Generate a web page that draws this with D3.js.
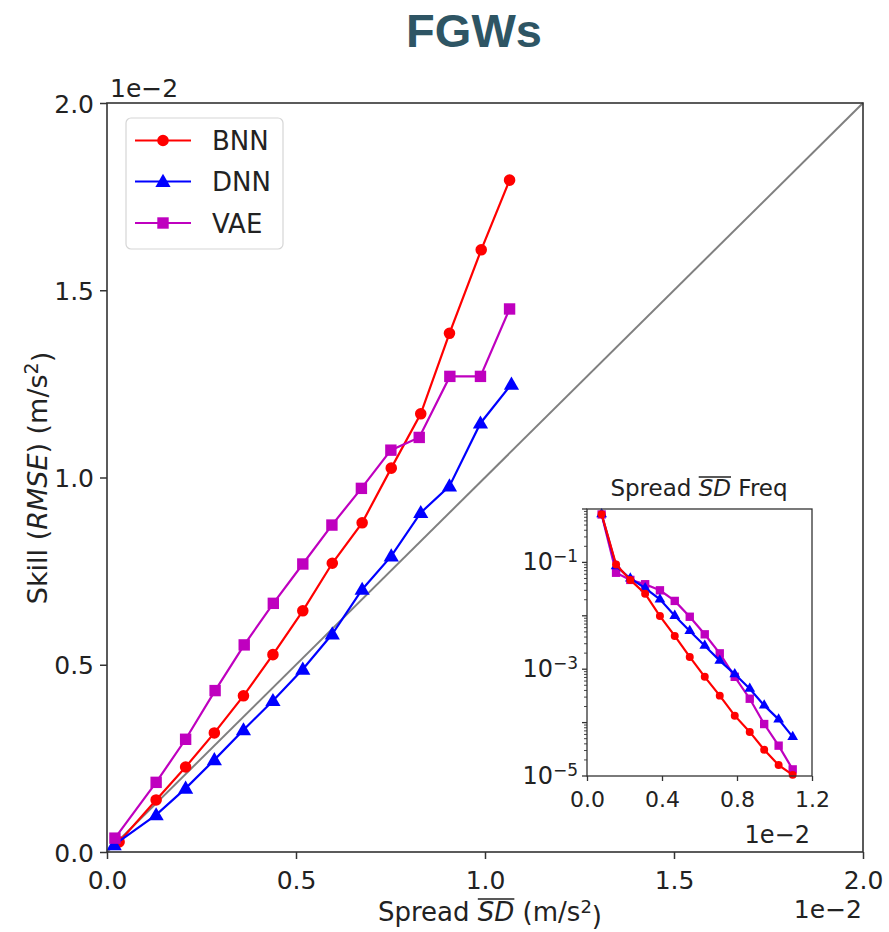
<!DOCTYPE html>
<html>
<head>
<meta charset="utf-8">
<script src="https://cdn.jsdelivr.net/npm/d3@7"></script>
<style>
  body { margin: 0; background: #fff; }
  text { font-family: "DejaVu Sans", sans-serif; fill: #222; }
</style>
</head>
<body>
<div id="chart"></div>
<script>
// Skill vs spread, values in units of 1e-2 m/s^2
const models = ["BNN", "DNN", "VAE"];
const colors = ["#ff0000", "#0000ff", "#bf00bf"];
const shapes = ["circle", "triangle", "square"];

const bnnSpread = [0.032, 0.13, 0.208, 0.284, 0.361, 0.439, 0.518, 0.596, 0.675, 0.752, 0.83, 0.906, 0.99, 1.065];
const bnnSkill  = [0.027, 0.139, 0.227, 0.318, 0.417, 0.527, 0.644, 0.771, 0.879, 1.025, 1.17, 1.385, 1.608, 1.794];
const dnnSpread = [0.019, 0.13, 0.208, 0.284, 0.361, 0.439, 0.518, 0.596, 0.675, 0.752, 0.83, 0.906, 0.988, 1.07];
const dnnSkill  = [0.019, 0.099, 0.17, 0.246, 0.326, 0.404, 0.488, 0.582, 0.701, 0.79, 0.906, 0.977, 1.145, 1.249];
const vaeSpread = [0.021, 0.13, 0.208, 0.286, 0.363, 0.44, 0.518, 0.595, 0.673, 0.751, 0.826, 0.907, 0.988, 1.065];
const vaeSkill  = [0.037, 0.186, 0.301, 0.431, 0.553, 0.664, 0.769, 0.873, 0.971, 1.073, 1.107, 1.27, 1.27, 1.45];

// Inset: frequency of spread bins (log scale)
const freqBins = [0.078, 0.155, 0.231, 0.31, 0.389, 0.468, 0.548, 0.628, 0.708, 0.788, 0.868, 0.945, 1.022, 1.097];
const bnnFreq = [0.8, 0.091, 0.047, 0.026, 0.0099, 0.0042, 0.0017, 0.00072, 0.00032, 0.000135, 0.000067, 0.000031, 0.000016, 0.0000105];
const dnnFreq = [0.8, 0.085, 0.05, 0.033, 0.0203, 0.01, 0.0052, 0.00275, 0.00145, 0.00081, 0.00043, 0.00021, 0.000115, 0.000054];
const vaeFreq = [0.79, 0.064, 0.047, 0.039, 0.03, 0.019, 0.0096, 0.0045, 0.00198, 0.00072, 0.00028, 0.000094, 0.000037, 0.0000133];

const mainTicks = [0, 0.5, 1.0, 1.5, 2.0];
const insetXTicks = [0, 0.4, 0.8, 1.2];
const insetYLabels = [1e-1, 1e-3, 1e-5];

const spreads = [bnnSpread, dnnSpread, vaeSpread];
const skills = [bnnSkill, dnnSkill, vaeSkill];
const freqs = [bnnFreq, dnnFreq, vaeFreq];

const width = 889, height = 932;
const svg = d3.select("#chart").append("svg")
  .attr("width", width)
  .attr("height", height);

svg.append("rect").attr("width", width).attr("height", height).attr("fill", "#fff");

// title
svg.append("text")
  .attr("x", 474).attr("y", 47)
  .attr("text-anchor", "middle")
  .style("font-family", "'Liberation Sans', Arial, sans-serif")
  .style("font-weight", "bold")
  .style("font-size", "47px")
  .style("fill", "#2e5564")
  .text("FGWs");

// main axes
const plot = { left: 107, right: 863, top: 103, bottom: 852 };
const x = d3.scaleLinear().domain([0, 2]).range([plot.left, plot.right]);
const y = d3.scaleLinear().domain([0, 2]).range([plot.bottom, plot.top]);

// diagonal y = x
svg.append("line")
  .attr("x1", x(0)).attr("y1", y(0))
  .attr("x2", x(2)).attr("y2", y(2))
  .attr("stroke", "#808080")
  .attr("stroke-width", 2);

function markerPath(shape, size) {
  const sym = shape === "circle" ? d3.symbolCircle : shape === "triangle" ? d3.symbolTriangle : d3.symbolSquare;
  return d3.symbol().type(sym).size(size)();
}

const markerSize = { circle: 105, triangle: 100, square: 130 };

models.forEach((m, i) => {
  const pts = spreads[i].map((s, j) => [s, skills[i][j]]);
  svg.append("path")
    .datum(pts)
    .attr("fill", "none")
    .attr("stroke", colors[i])
    .attr("stroke-width", 2.2)
    .attr("d", d3.line().x(d => x(d[0])).y(d => y(d[1])));
  svg.selectAll(".mk-" + m)
    .data(pts)
    .enter()
    .append("path")
    .attr("class", "mk-" + m)
    .attr("d", markerPath(shapes[i], markerSize[shapes[i]]))
    .attr("transform", d => `translate(${x(d[0])},${y(d[1]) + (shapes[i] === "triangle" ? 1 : 0)})`)
    .attr("fill", colors[i]);
});

// axes
const xAxis = d3.axisBottom(x).tickValues(mainTicks).tickFormat(d3.format(".1f")).tickSize(7).tickPadding(6);
const yAxis = d3.axisLeft(y).tickValues(mainTicks).tickFormat(d3.format(".1f")).tickSize(7).tickPadding(6);

const gx = svg.append("g").attr("transform", `translate(0,${plot.bottom})`).call(xAxis);
const gy = svg.append("g").attr("transform", `translate(${plot.left},0)`).call(yAxis);
[gx, gy].forEach(g => {
  g.select(".domain").remove();
  g.selectAll("line").attr("stroke", "#333").attr("stroke-width", 1.5);
  g.selectAll("text").style("font-size", "25px").style("fill", "#222").attr("font-family", null);
});
gy.selectAll("text").attr("dy", "0.36em");
gx.selectAll("text").attr("dy", "0.95em");

svg.append("rect")
  .attr("x", plot.left).attr("y", plot.top)
  .attr("width", plot.right - plot.left).attr("height", plot.bottom - plot.top)
  .attr("fill", "none").attr("stroke", "#333").attr("stroke-width", 1.6);

// offset texts
svg.append("text").attr("x", 110).attr("y", 97).style("font-size", "25px").text("1e\u22122");
svg.append("text").attr("x", 862).attr("y", 918).attr("text-anchor", "end").style("font-size", "25px").text("1e\u22122");

// helper: draw an overline over chars [a,b) of a text node
function overline(textSel, a, b, rise, color) {
  const node = textSel.node();
  const x0 = node.getStartPositionOfChar(a).x;
  const x1 = node.getEndPositionOfChar(b - 1).x;
  const p = node.getStartPositionOfChar(a);
  d3.select(node.parentNode).append("line")
    .attr("x1", x0).attr("x2", x1)
    .attr("y1", p.y - rise).attr("y2", p.y - rise)
    .attr("stroke", color || "#222").attr("stroke-width", 1.4);
}

// x label
const xl = svg.append("g");
const xlt = xl.append("text").attr("x", 490).attr("y", 921).attr("text-anchor", "middle").style("font-size", "26px");
xlt.append("tspan").text("Spread ");
xlt.append("tspan").style("font-style", "italic").text("SD");
xlt.append("tspan").text(" (m/s");
xlt.append("tspan").attr("dy", "-0.45em").style("font-size", "18px").text("2");
xlt.append("tspan").attr("dy", "0.45em").text(")");
overline(xlt, 7, 9, 22);

// y label
const ylt = svg.append("text")
  .attr("transform", "translate(47,478) rotate(-90)")
  .attr("text-anchor", "middle")
  .style("font-size", "27px");
ylt.append("tspan").text("Skill (");
ylt.append("tspan").style("font-style", "italic").text("RMSE");
ylt.append("tspan").text(") (m/s");
ylt.append("tspan").attr("dy", "-0.45em").style("font-size", "19px").text("2");
ylt.append("tspan").attr("dy", "0.45em").text(")");

// legend
const lg = svg.append("g");
lg.append("rect")
  .attr("x", 126).attr("y", 118).attr("width", 157).attr("height", 131)
  .attr("rx", 5)
  .attr("fill", "#fff").attr("fill-opacity", 0.85)
  .attr("stroke", "#d6d6d6").attr("stroke-width", 1.2);
const legendY = [140.5, 181.5, 223];
models.forEach((m, i) => {
  lg.append("line")
    .attr("x1", 135).attr("x2", 191)
    .attr("y1", legendY[i]).attr("y2", legendY[i])
    .attr("stroke", colors[i]).attr("stroke-width", 2.2);
  lg.append("path")
    .attr("d", markerPath(shapes[i], markerSize[shapes[i]]))
    .attr("transform", `translate(163,${legendY[i] + (shapes[i] === "triangle" ? 1 : 0)})`)
    .attr("fill", colors[i]);
  lg.append("text")
    .attr("x", 212).attr("y", legendY[i] + 9.5)
    .style("font-size", "26px")
    .text(m);
});

// inset
const ins = { left: 587, right: 812, top: 509, bottom: 776 };
const xi = d3.scaleLinear().domain([0, 1.2]).range([ins.left, ins.right]);
const yi = d3.scaleLog().domain([1e-5, 1]).range([ins.bottom, ins.top]);

svg.append("rect")
  .attr("x", ins.left).attr("y", ins.top)
  .attr("width", ins.right - ins.left).attr("height", ins.bottom - ins.top)
  .attr("fill", "#fff");

svg.append("clipPath").attr("id", "insclip")
  .append("rect")
  .attr("x", ins.left).attr("y", ins.top - 6)
  .attr("width", ins.right - ins.left + 6).attr("height", ins.bottom - ins.top + 12);

const ig = svg.append("g").attr("clip-path", "url(#insclip)");
const insetSize = { circle: 50, triangle: 50, square: 70 };
[2, 1, 0].forEach(i => {
  const pts = freqBins.map((b, j) => [b, freqs[i][j]]);
  ig.append("path")
    .datum(pts)
    .attr("fill", "none")
    .attr("stroke", colors[i])
    .attr("stroke-width", 2.2)
    .attr("d", d3.line().x(d => xi(d[0])).y(d => yi(d[1])));
  ig.selectAll(".imk" + i)
    .data(pts)
    .enter()
    .append("path")
    .attr("d", markerPath(shapes[i], insetSize[shapes[i]]))
    .attr("transform", d => `translate(${xi(d[0])},${yi(d[1])})`)
    .attr("fill", colors[i]);
});

const ixAxis = d3.axisBottom(xi).tickValues(insetXTicks).tickFormat(d3.format(".1f")).tickSize(5).tickPadding(5);
const gix = svg.append("g").attr("transform", `translate(0,${ins.bottom})`).call(ixAxis);
gix.select(".domain").remove();
gix.selectAll("line").attr("stroke", "#333").attr("stroke-width", 1.3);
gix.selectAll("text").style("font-size", "22px").attr("dy", "0.95em").attr("font-family", null);

// log ticks
const majors = d3.range(-5, 1).map(e => Math.pow(10, e));
const minors = [];
d3.range(-5, 0).forEach(e => d3.range(2, 10).forEach(k => minors.push(k * Math.pow(10, e))));
svg.selectAll(".imaj").data(majors).enter().append("line")
  .attr("x1", ins.left - 5).attr("x2", ins.left)
  .attr("y1", d => yi(d)).attr("y2", d => yi(d))
  .attr("stroke", "#333").attr("stroke-width", 1.3);
svg.selectAll(".imin").data(minors).enter().append("line")
  .attr("x1", ins.left - 3).attr("x2", ins.left)
  .attr("y1", d => yi(d)).attr("y2", d => yi(d))
  .attr("stroke", "#333").attr("stroke-width", 0.9);
insetYLabels.forEach(v => {
  const t = svg.append("text")
    .attr("x", ins.left - 9).attr("y", yi(v) + 8)
    .attr("text-anchor", "end")
    .style("font-size", "24px");
  t.append("tspan").text("10");
  t.append("tspan").attr("dy", "-0.5em").style("font-size", "17px").text("\u2212" + Math.round(-Math.log10(v)));
});

svg.append("rect")
  .attr("x", ins.left).attr("y", ins.top)
  .attr("width", ins.right - ins.left).attr("height", ins.bottom - ins.top)
  .attr("fill", "none").attr("stroke", "#333").attr("stroke-width", 1.3);

// inset title
const it = svg.append("text").attr("x", 699).attr("y", 496).attr("text-anchor", "middle").style("font-size", "23px");
it.append("tspan").text("Spread ");
it.append("tspan").style("font-style", "italic").text("SD");
it.append("tspan").text(" Freq");
overline(it, 7, 9, 19);

svg.append("text").attr("x", 810).attr("y", 843).attr("text-anchor", "end").style("font-size", "24px").text("1e\u22122");
</script>
</body>
</html>
